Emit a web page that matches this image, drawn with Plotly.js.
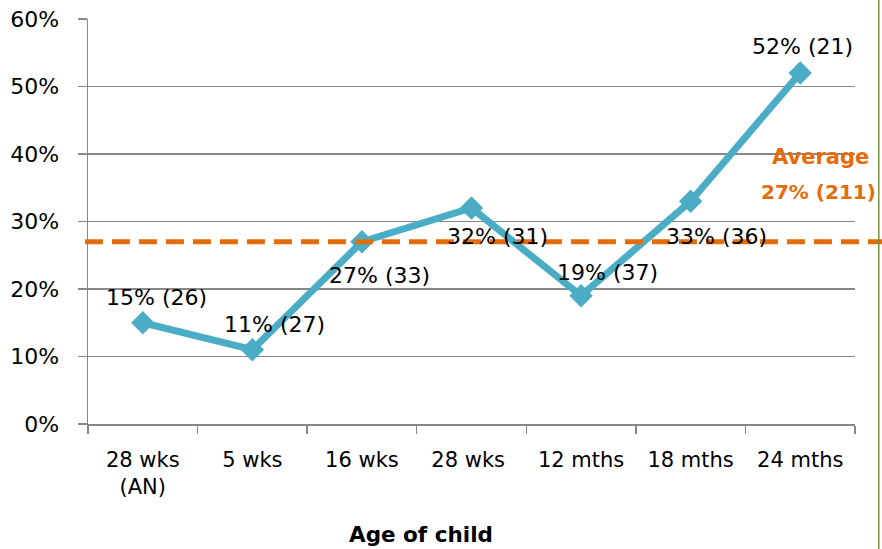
<!DOCTYPE html>
<html>
<head>
<meta charset="utf-8">
<script src="https://cdn.plot.ly/plotly-3.0.1.min.js"></script>
<style>html,body{margin:0;padding:0;background:#fff;}#chart{width:882px;height:549px;}</style>
</head>
<body>
<div id="chart"></div>
<script>
var categories = ["28 wks<br>(AN)", "5 wks", "16 wks", "28 wks ", "12 mths", "18 mths", "24 mths"];
var percentValues = [15, 11, 27, 32, 19, 33, 52];
var sampleSizes = [26, 27, 33, 31, 37, 36, 21];
var averageValue = 27;
var averageN = 211;
var yTickValues = [0, 10, 20, 30, 40, 50, 60];
var yTickLabels = ["0%", "10%", "20%", "30%", "40%", "50%", "60%"];
var xAxisTitle = "Age of child";
var averageTitle = "Average";

var FONT = "'DejaVu Sans', sans-serif";
var labelShifts = [[14,25],[22,25],[18,-34],[26,-28],[26,23],[26,-35],[2,27]];

var annotations = categories.map(function(c, i){
  return {
    x: c, y: percentValues[i], xref: 'x', yref: 'y', xanchor: 'center', yanchor: 'middle',
    text: percentValues[i] + '% (' + sampleSizes[i] + ')',
    showarrow: false, xshift: labelShifts[i][0], yshift: labelShifts[i][1],
    font: {family: FONT, size: 22, color: '#000'}
  };
});
annotations.push({
  x: 0.955, y: 0.659, xref: 'paper', yref: 'paper', xanchor: 'center', yanchor: 'middle', showarrow: false,
  text: '<b>' + averageTitle + '</b>', font: {family: FONT, size: 21, color: '#E46C0A'}
});
annotations.push({
  x: 0.953, y: 0.574, xref: 'paper', yref: 'paper', xanchor: 'center', yanchor: 'middle', showarrow: false,
  text: '<b>' + averageValue + '% (' + averageN + ')</b>', font: {family: FONT, size: 20, color: '#E46C0A'}
});
annotations.push({
  x: 0.434, y: -0.274, xref: 'paper', yref: 'paper', xanchor: 'center', yanchor: 'middle', showarrow: false,
  text: '<b>' + xAxisTitle + '</b>', font: {family: FONT, size: 21.5, color: '#000'}
});

var trace = {
  x: categories, y: percentValues, type: 'scatter', mode: 'lines+markers',
  line: {color: '#4BACC6', width: 7},
  marker: {symbol: 'diamond', size: 18, color: '#4BACC6'},
  cliponaxis: false, hoverinfo: 'none'
};

var layout = {
  width: 882, height: 549,
  margin: {l: 88, r: 27, t: 19, b: 125},
  paper_bgcolor: '#fff', plot_bgcolor: '#fff',
  showlegend: false,
  xaxis: {
    type: 'category', tickson: 'boundaries', ticks: 'outside', ticklen: 8, tickcolor: '#888',
    tickwidth: 1.5, showgrid: false, showline: true, linecolor: '#888', linewidth: 1.5,
    ticklabelstandoff: 16,
    tickfont: {family: FONT, size: 21, color: '#000'}, range: [-0.5, 6.5], fixedrange: true
  },
  yaxis: {
    range: [0, 60], tickvals: yTickValues, ticktext: yTickLabels,
    ticks: 'outside', ticklen: 9, tickcolor: '#888', tickwidth: 1.5,
    showgrid: true, gridcolor: '#888', gridwidth: 1.5,
    showline: true, linecolor: '#888', linewidth: 1.5, zeroline: false,
    ticklabelstandoff: 14,
    tickfont: {family: FONT, size: 22, color: '#000'}, fixedrange: true
  },
  shapes: [
    {type: 'line', xref: 'paper', yref: 'y', x0: -0.004, x1: 1.04, y0: averageValue, y1: averageValue,
     line: {color: '#E46C0A', width: 5, dash: '18px,9px'}},
    {type: 'line', xref: 'paper', yref: 'paper', x0: 1.031, x1: 1.031, y0: -0.32, y1: 1.06,
     line: {color: '#77933C', width: 1.5}}
  ],
  annotations: annotations
};

Plotly.newPlot('chart', [trace], layout, {displayModeBar: false, staticPlot: true});
</script>
</body>
</html>
